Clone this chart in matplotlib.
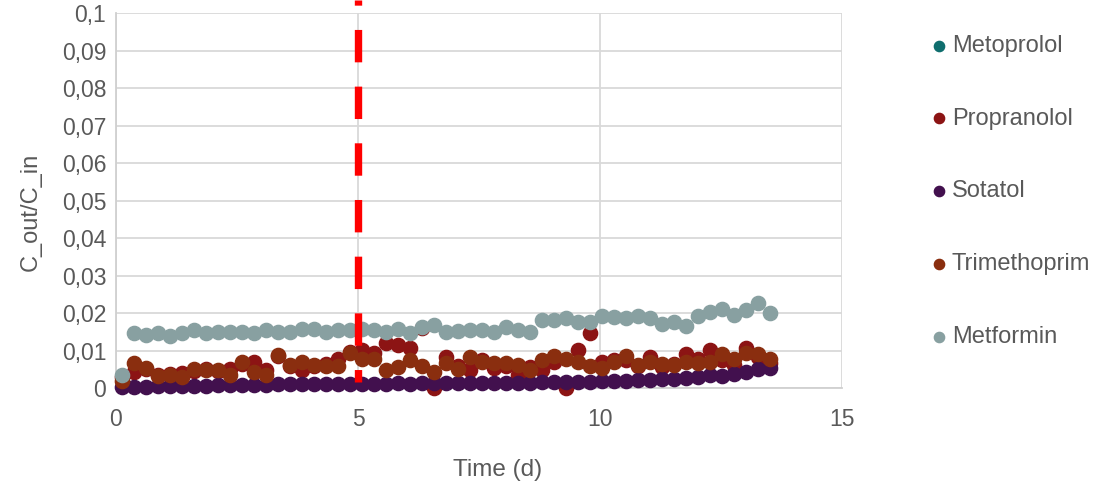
import matplotlib.pyplot as plt

plt.rcParams['font.family'] = ['Liberation Sans', 'DejaVu Sans']

# time points (days)
time = [0.12, 0.37, 0.62, 0.86, 1.11, 1.36, 1.61, 1.86, 2.10, 2.35,
        2.60, 2.85, 3.10, 3.34, 3.59, 3.84, 4.09, 4.34, 4.58, 4.83,
        5.08, 5.33, 5.58, 5.82, 6.07, 6.32, 6.57, 6.82, 7.06, 7.31,
        7.56, 7.81, 8.06, 8.30, 8.55, 8.80, 9.05, 9.30, 9.54, 9.79,
        10.04, 10.29, 10.54, 10.78, 11.03, 11.28, 11.53, 11.78, 12.02, 12.27,
        12.52, 12.77, 13.02, 13.26, 13.51]

metoprolol = []

propranolol = [0.0030, 0.0044, 0.0050, 0.0035, 0.0038, 0.0040, 0.0045, 0.0050, 0.0045, 0.0052,
               0.0065, 0.0070, 0.0048, 0.0085, 0.0060, 0.0048, 0.0060, 0.0065, 0.0079, 0.0097,
               0.0101, 0.0095, 0.0121, 0.0115, 0.0106, 0.0160, 0.0000, 0.0083, 0.0060, 0.0048,
               0.0075, 0.0053, 0.0060, 0.0035, 0.0057, 0.0048, 0.0070, 0.0000, 0.0103, 0.0148,
               0.0070, 0.0075, 0.0075, 0.0060, 0.0083, 0.0057, 0.0065, 0.0092, 0.0078, 0.0101,
               0.0075, 0.0061, 0.0108, 0.0083, 0.0066]

sotatol = [0.0002, 0.0004, 0.0003, 0.0005, 0.0006, 0.0006, 0.0007, 0.0007, 0.0008, 0.0008,
           0.0008, 0.0009, 0.0009, 0.0010, 0.0010, 0.0010, 0.0010, 0.0011, 0.0011, 0.0011,
           0.0012, 0.0012, 0.0012, 0.0013, 0.0012, 0.0013, 0.0013, 0.0013, 0.0014, 0.0014,
           0.0014, 0.0015, 0.0015, 0.0015, 0.0015, 0.0016, 0.0016, 0.0016, 0.0017, 0.0017,
           0.0018, 0.0019, 0.0020, 0.0021, 0.0022, 0.0024, 0.0025, 0.0027, 0.0031, 0.0034,
           0.0033, 0.0039, 0.0044, 0.0052, 0.0055]

trimethoprim = [0.0020, 0.0066, 0.0055, 0.0032, 0.0035, 0.0029, 0.0052, 0.0048, 0.0048, 0.0035,
                0.0070, 0.0044, 0.0035, 0.0088, 0.0061, 0.0070, 0.0061, 0.0059, 0.0059, 0.0094,
                0.0079, 0.0079, 0.0048, 0.0057, 0.0075, 0.0059, 0.0044, 0.0066, 0.0052, 0.0082,
                0.0070, 0.0066, 0.0066, 0.0061, 0.0048, 0.0075, 0.0085, 0.0079, 0.0070, 0.0059,
                0.0055, 0.0070, 0.0085, 0.0061, 0.0070, 0.0064, 0.0061, 0.0070, 0.0066, 0.0070,
                0.0092, 0.0079, 0.0094, 0.0092, 0.0079]

metformin = [0.0035, 0.0146, 0.0141, 0.0148, 0.0139, 0.0148, 0.0155, 0.0146, 0.0150, 0.0150,
             0.0150, 0.0148, 0.0156, 0.0150, 0.0150, 0.0159, 0.0159, 0.0150, 0.0156, 0.0155,
             0.0157, 0.0155, 0.0150, 0.0159, 0.0146, 0.0163, 0.0168, 0.0150, 0.0153, 0.0155,
             0.0155, 0.0150, 0.0162, 0.0155, 0.0150, 0.0181, 0.0181, 0.0186, 0.0177, 0.0177,
             0.0192, 0.0190, 0.0186, 0.0192, 0.0186, 0.0172, 0.0177, 0.0165, 0.0192, 0.0203,
             0.0212, 0.0195, 0.0208, 0.0226, 0.0201]

switch_day = 5
yticks = [0, 0.01, 0.02, 0.03, 0.04, 0.05, 0.06, 0.07, 0.08, 0.09, 0.1]
ytick_labels = ['0', '0,01', '0,02', '0,03', '0,04', '0,05', '0,06', '0,07', '0,08', '0,09', '0,1']

grey = '#595959'
fig = plt.figure(figsize=(10.98, 4.87), dpi=100)
ax = fig.add_axes([0.1056, 0.203, 0.6614, 0.770])

s = 105
ax.scatter(metoprolol, metoprolol, s=s, color='#0F6E6E', label='Metoprolol')
ax.scatter(time, propranolol, s=s, color='#8C1414', label='Propranolol', zorder=3, clip_on=False)
ax.scatter(time, sotatol, s=s, color='#42104E', label='Sotatol', zorder=3, clip_on=False)
ax.scatter(time, trimethoprim, s=s, color='#8A2E0F', label='Trimethoprim', zorder=3, clip_on=False)
ax.scatter(time, metformin, s=s, color='#88A0A1', label='Metformin', zorder=3, clip_on=False)

# switch marker
ax.plot([switch_day, switch_day], [0.1035, 0.0017], color='#FF0000', lw=5.3,
        linestyle=(3.7, (4.4, 3.3)), dash_capstyle='butt',
        clip_on=False, zorder=4)

ax.set_xlim(0, 15)
ax.set_ylim(0, 0.1)
ax.set_xticks([0, 5, 10, 15])
ax.set_yticks(yticks)
ax.set_yticklabels(ytick_labels)
ax.grid(True, color='#D9D9D9', lw=1.3)
ax.set_axisbelow(True)
for sp in ['top', 'right']:
    ax.spines[sp].set_visible(False)
for sp in ['left', 'bottom']:
    ax.spines[sp].set_color('#D0D0D0')
    ax.spines[sp].set_linewidth(1.3)
ax.tick_params(length=0, labelsize=16.5, labelcolor=grey)
ax.tick_params(axis='x', pad=14)
ax.tick_params(axis='y', pad=7)
ax.set_xlabel('Time (d)', fontsize=17.5, color=grey)
ax.xaxis.set_label_coords(0.526, -0.19)
ax.set_ylabel('C_out/C_in', fontsize=17, color=grey)
ax.yaxis.set_label_coords(-0.1015, 0.47)

leg = fig.legend(loc='upper left', bbox_to_anchor=(0.824, 0.972), frameon=False,
                 fontsize=17, labelspacing=2.15, handletextpad=0.0, markerscale=0.72,
                 handlelength=1.1)
for t in leg.get_texts():
    t.set_color(grey)

fig.savefig('out.png', dpi=100)
